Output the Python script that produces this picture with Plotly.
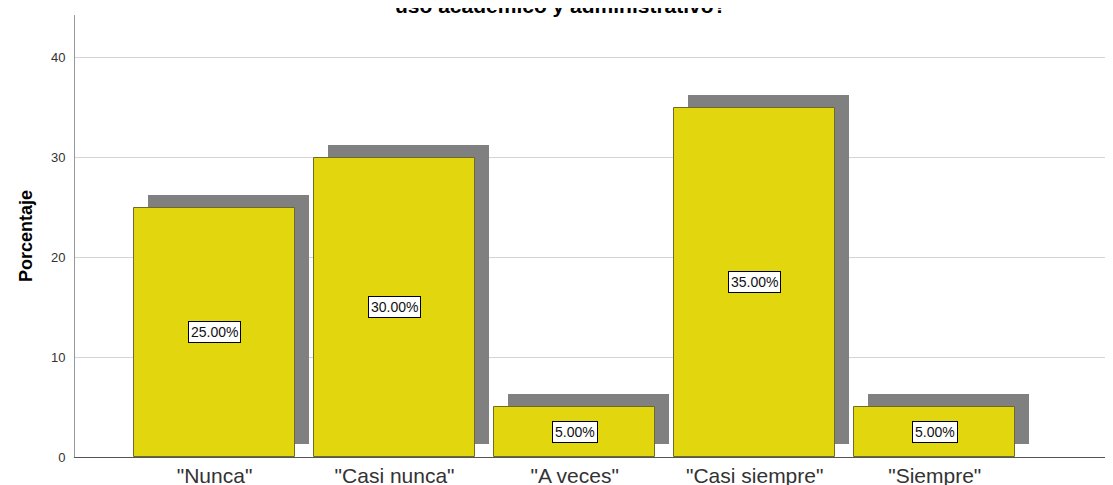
import plotly.graph_objects as go

categories = ['"Nunca"', '"Casi nunca"', '"A veces"', '"Casi siempre"', '"Siempre"']
values = [25.0, 30.0, 5.0, 35.0, 5.0]
labels = ["25.00%", "30.00%", "5.00%", "35.00%", "5.00%"]
title_text = "uso académico y administrativo?"

BAR_W = 0.894
SH_DX = 0.078
SH_DY = 1.3

fig = go.Figure()
# drop shadows
fig.add_trace(go.Bar(
    x=categories, y=values, base=[SH_DY] * len(values),
    width=BAR_W, offset=-BAR_W / 2 + SH_DX,
    marker=dict(color="#808080", line=dict(width=0)),
    hoverinfo="skip", showlegend=False,
))
# main bars
fig.add_trace(go.Bar(
    x=categories, y=values,
    width=BAR_W, offset=-BAR_W / 2,
    marker=dict(color="#e2d70e", line=dict(color="#6e6a2a", width=1)),
    showlegend=False,
))

for c, v, t in zip(categories, values, labels):
    fig.add_annotation(
        x=c, y=v / 2, text=t, showarrow=False,
        font=dict(family="Liberation Sans, Arial", size=14, color="#111"),
        bgcolor="white", bordercolor="#000", borderwidth=1, borderpad=2,
    )

fig.add_annotation(
    x=0.468, xref="paper", y=1.0, yref="paper", yshift=-4,
    text="<b>" + title_text + "</b>", showarrow=False, yanchor="bottom",
    font=dict(family="Liberation Sans, Arial", size=21, color="#000"),
)

fig.update_layout(
    width=1105, height=477,
    margin=dict(l=67, r=0, t=7, b=28),
    plot_bgcolor="white", paper_bgcolor="white",
    barmode="overlay", bargap=0,
    font=dict(family="Liberation Sans, Arial", color="#333"),
)
fig.update_xaxes(
    type="category", range=[-0.775, 4.99], automargin=False,
    showline=True, linecolor="#555", linewidth=1,
    ticks="", showgrid=False,
    tickfont=dict(size=21, color="#333"),
)
fig.update_yaxes(
    range=[0, 44.3], tickvals=[0, 10, 20, 30, 40], automargin=False,
    showline=True, linecolor="#999", linewidth=1,
    showgrid=True, gridcolor="#d4d4d4", gridwidth=1,
    zeroline=False, ticks="", ticklabelstandoff=6,
    tickfont=dict(size=13, color="#333"),
    title=dict(text="<b>Porcentaje</b>", font=dict(size=18, color="#000"), standoff=13),
)

fig.write_html("out.html")
